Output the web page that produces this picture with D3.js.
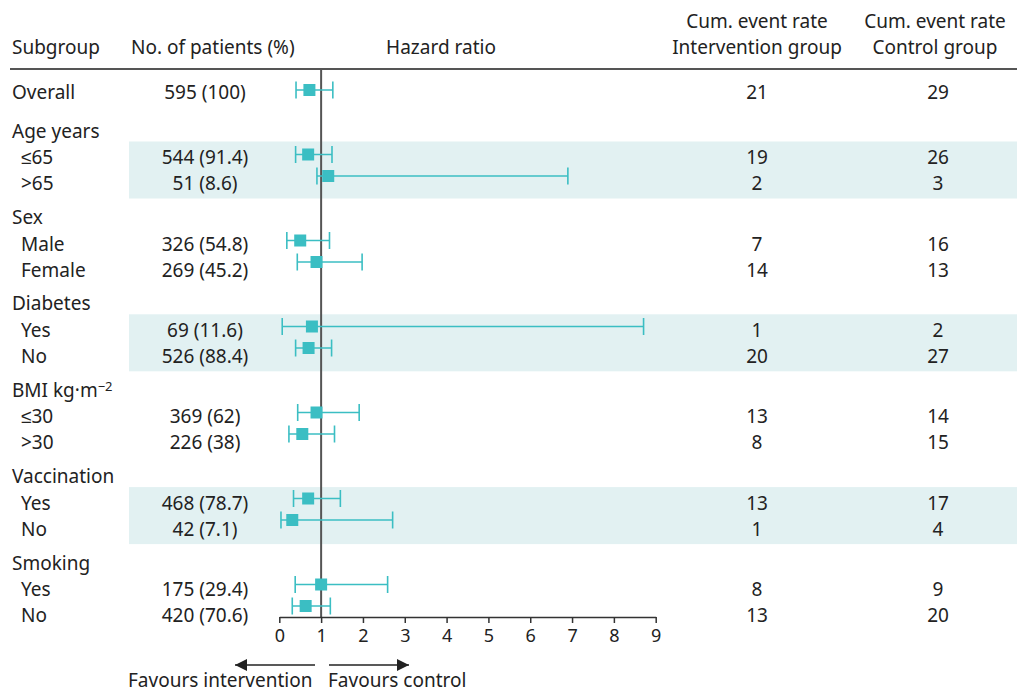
<!DOCTYPE html>
<html>
<head>
<meta charset="utf-8">
<script src="https://cdn.jsdelivr.net/npm/d3@7"></script>
<style>
  body { margin: 0; background: #fff; }
  text { font-family: "Noto Sans", sans-serif; font-size: 19px; fill: #222; }
</style>
</head>
<body>
<script>
var width = 1017;
var height = 693;

// data
var groups = ["Age years", "Sex", "Diabetes", "BMI kg\u00b7m", "Vaccination", "Smoking"];
var rowLabels = ["Overall", "\u226465", ">65", "Male", "Female", "Yes", "No", "\u226430", ">30", "Yes", "No", "Yes", "No"];
var rowGroup = [-1, 0, 0, 1, 1, 2, 2, 3, 3, 4, 4, 5, 5];
var patients = ["595 (100)", "544 (91.4)", "51 (8.6)", "326 (54.8)", "269 (45.2)", "69 (11.6)", "526 (88.4)",
                "369 (62)", "226 (38)", "468 (78.7)", "42 (7.1)", "175 (29.4)", "420 (70.6)"];
var hr    = [0.72, 0.69, 1.17, 0.50, 0.89, 0.78, 0.70, 0.89, 0.55, 0.69, 0.31, 1.00, 0.63];
var lower = [0.40, 0.39, 0.90, 0.18, 0.43, 0.07, 0.39, 0.44, 0.23, 0.34, 0.04, 0.38, 0.31];
var upper = [1.28, 1.26, 6.90, 1.20, 1.98, 8.71, 1.25, 1.91, 1.32, 1.46, 2.71, 2.59, 1.22];
var cumIntervention = [21, 19, 2, 7, 14, 1, 20, 13, 8, 13, 1, 8, 13];
var cumControl      = [29, 26, 3, 16, 13, 2, 27, 14, 15, 17, 4, 9, 20];
var xTicks = [0, 1, 2, 3, 4, 5, 6, 7, 8, 9];
var shadedGroups = [0, 2, 4];

var teal = "#3bbec3";
var band = "#e2f1f2";

var svg = d3.select("body").append("svg")
    .attr("width", width)
    .attr("height", height);

var x = d3.scaleLinear().domain([0, 9]).range([279.3, 655.7]);

// text rows: overall, then header + two rows per group
function headerY(g) { return 131 + g * 86.4; }
function textY(i) {
  if (rowGroup[i] < 0) return 92;
  var first = rowGroup[i - 1] !== rowGroup[i];
  return headerY(rowGroup[i]) + (first ? 26.5 : 52.5);
}
// marks sit on a slot grid, 4 slots per group
function markY(i) {
  if (i === 0) return 90;
  var g = rowGroup[i];
  var first = rowGroup[i - 1] !== g;
  return 90 + (4 * (g + 1) - (first ? 1 : 0)) * 21.5;
}

// shaded bands
shadedGroups.forEach(function(g) {
  var top = headerY(g) + 26.5 - 16;
  svg.append("rect")
    .attr("x", 129)
    .attr("y", top)
    .attr("width", width - 129)
    .attr("height", 57)
    .style("fill", band);
});

// column headers
svg.append("text").attr("x", 12).attr("y", 47).attr("dy", "0.35em").text("Subgroup");
svg.append("text").attr("x", 131).attr("y", 47).attr("dy", "0.35em").text("No. of patients (%)");
svg.append("text").attr("x", 441).attr("y", 47).attr("dy", "0.35em").attr("text-anchor", "middle").text("Hazard ratio");
svg.append("text").attr("x", 757).attr("y", 21).attr("dy", "0.35em").attr("text-anchor", "middle").text("Cum. event rate");
svg.append("text").attr("x", 757).attr("y", 47).attr("dy", "0.35em").attr("text-anchor", "middle").text("Intervention group");
svg.append("text").attr("x", 935).attr("y", 21).attr("dy", "0.35em").attr("text-anchor", "middle").text("Cum. event rate");
svg.append("text").attr("x", 935).attr("y", 47).attr("dy", "0.35em").attr("text-anchor", "middle").text("Control group");

svg.append("line")
  .attr("x1", 10).attr("x2", width)
  .attr("y1", 69).attr("y2", 69)
  .style("stroke", "#555").style("stroke-width", 2);

// group headers
groups.forEach(function(name, g) {
  var t = svg.append("text").attr("x", 12).attr("y", headerY(g)).attr("dy", "0.35em").text(name);
  if (g === 3) {
    t.append("tspan").attr("dy", "-0.45em").style("font-size", "13px").text("\u22122");
  }
});

// row labels and numbers
var rows = svg.selectAll(".row").data(rowLabels).enter().append("g").attr("class", "row");
rows.append("text")
  .attr("x", function(d, i) { return i === 0 ? 12 : 21; })
  .attr("y", function(d, i) { return textY(i); })
  .attr("dy", "0.35em")
  .text(function(d) { return d; });
rows.append("text")
  .attr("x", 205)
  .attr("y", function(d, i) { return textY(i); })
  .attr("dy", "0.35em")
  .attr("text-anchor", "middle")
  .text(function(d, i) { return patients[i]; });
rows.append("text")
  .attr("x", 757)
  .attr("y", function(d, i) { return textY(i); })
  .attr("dy", "0.35em")
  .attr("text-anchor", "middle")
  .text(function(d, i) { return cumIntervention[i]; });
rows.append("text")
  .attr("x", 938)
  .attr("y", function(d, i) { return textY(i); })
  .attr("dy", "0.35em")
  .attr("text-anchor", "middle")
  .text(function(d, i) { return cumControl[i]; });

// reference line at 1
svg.append("line")
  .attr("x1", x(1)).attr("x2", x(1))
  .attr("y1", 69).attr("y2", 617)
  .style("stroke", "#555").style("stroke-width", 2);

// confidence intervals
var ci = svg.selectAll(".ci").data(hr).enter().append("g").attr("class", "ci");
ci.append("line")
  .attr("x1", function(d, i) { return x(lower[i]); })
  .attr("x2", function(d, i) { return x(upper[i]); })
  .attr("y1", function(d, i) { return markY(i); })
  .attr("y2", function(d, i) { return markY(i); })
  .style("stroke", teal).style("stroke-width", 1.6);
ci.append("line")
  .attr("x1", function(d, i) { return x(lower[i]); })
  .attr("x2", function(d, i) { return x(lower[i]); })
  .attr("y1", function(d, i) { return markY(i) - 8.5; })
  .attr("y2", function(d, i) { return markY(i) + 8.5; })
  .style("stroke", teal).style("stroke-width", 1.6);
ci.append("line")
  .attr("x1", function(d, i) { return x(upper[i]); })
  .attr("x2", function(d, i) { return x(upper[i]); })
  .attr("y1", function(d, i) { return markY(i) - 8.5; })
  .attr("y2", function(d, i) { return markY(i) + 8.5; })
  .style("stroke", teal).style("stroke-width", 1.6);
ci.append("rect")
  .attr("x", function(d) { return x(d) - 6; })
  .attr("y", function(d, i) { return markY(i) - 6; })
  .attr("width", 12)
  .attr("height", 12)
  .style("fill", teal);

// x axis
var xAxis = d3.axisBottom(x).tickValues(xTicks).tickSize(6).tickSizeOuter(0).tickPadding(6);
var ax = svg.append("g")
  .attr("transform", "translate(0,617)")
  .call(xAxis);
ax.select(".domain").style("stroke", "#333").style("stroke-width", 1.5);
ax.selectAll(".tick line").style("stroke", "#333").style("stroke-width", 1.5);
ax.selectAll(".tick text").style("font-size", "18px").style("fill", "#222")
  .style("font-family", "'Noto Sans', sans-serif");

// favours arrows
svg.append("defs").append("marker")
  .attr("id", "arrow")
  .attr("viewBox", "0 0 10 10")
  .attr("refX", 10).attr("refY", 5)
  .attr("markerWidth", 15).attr("markerHeight", 12)
  .attr("markerUnits", "userSpaceOnUse")
  .attr("orient", "auto")
  .append("path").attr("d", "M0,0L10,5L0,10z").style("fill", "#222");

svg.append("line")
  .attr("x1", 315).attr("x2", 235)
  .attr("y1", 665).attr("y2", 665)
  .style("stroke", "#222").style("stroke-width", 1.5)
  .attr("marker-end", "url(#arrow)");
svg.append("line")
  .attr("x1", 329).attr("x2", 409)
  .attr("y1", 665).attr("y2", 665)
  .style("stroke", "#222").style("stroke-width", 1.5)
  .attr("marker-end", "url(#arrow)");

svg.append("text").attr("x", 128).attr("y", 687).text("Favours intervention");
svg.append("text").attr("x", 328).attr("y", 687).text("Favours control");
</script>
</body>
</html>
